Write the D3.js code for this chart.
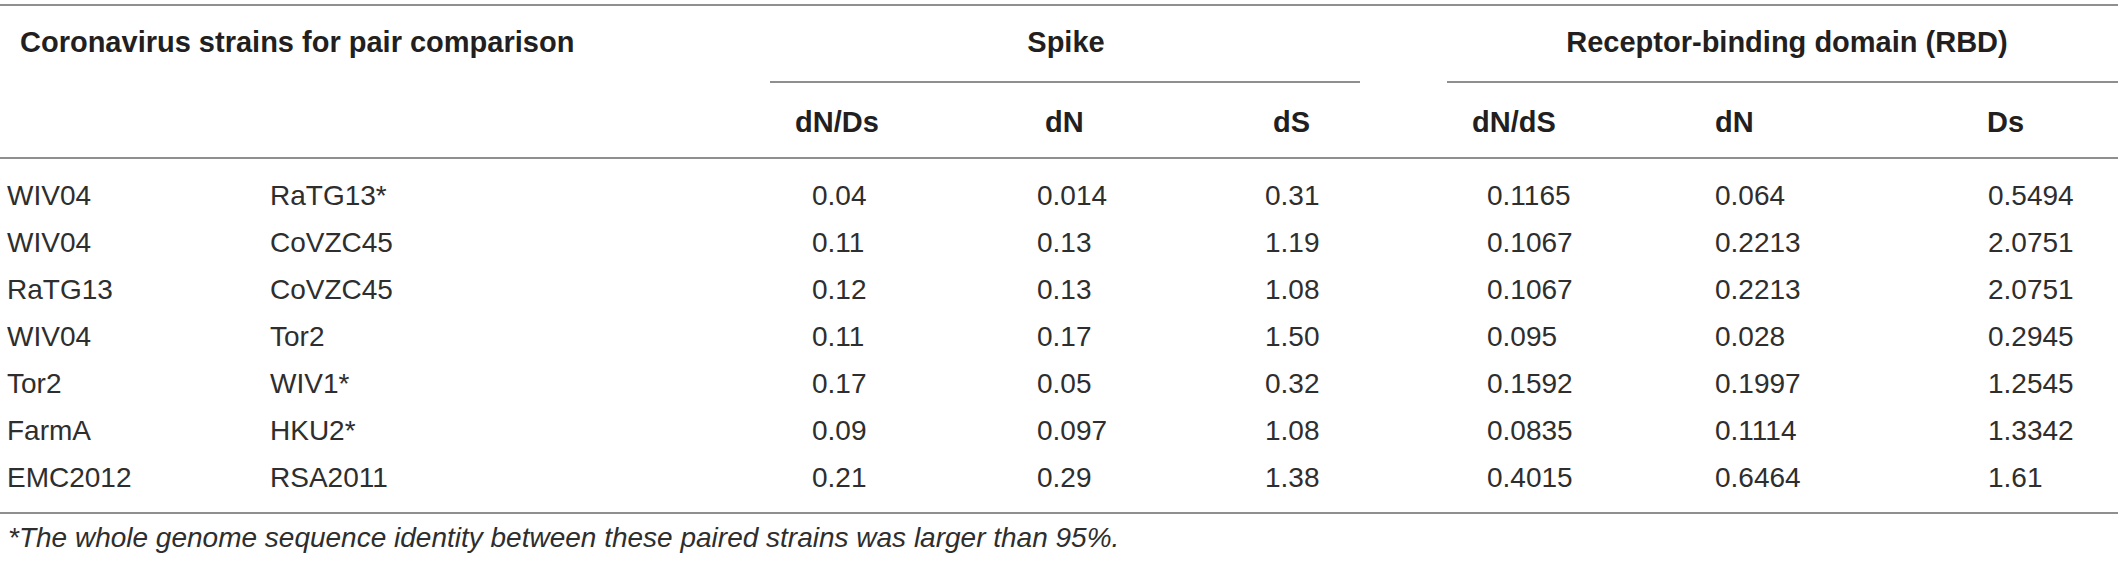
<!DOCTYPE html>
<html lang="en">
<head>
    <meta charset="UTF-8">
    <title>dN/dS table</title>
    <script src="https://cdn.jsdelivr.net/npm/d3@7"></script>
    <style>
        body { margin: 0; background: #fff; }
        svg text { font-family: "Liberation Sans", Arial, sans-serif; fill: #231f20; }
        svg text.light { fill: #2e2e2e; }
    </style>
</head>
<body>
<script>

    // strain pairs
    var strainA = ["WIV04", "WIV04", "RaTG13", "WIV04", "Tor2", "FarmA", "EMC2012"];
    var strainB = ["RaTG13*", "CoVZC45", "CoVZC45", "Tor2", "WIV1*", "HKU2*", "RSA2011"];

    // Spike
    var spikeDnDs = ["0.04", "0.11", "0.12", "0.11", "0.17", "0.09", "0.21"];
    var spikeDn = ["0.014", "0.13", "0.13", "0.17", "0.05", "0.097", "0.29"];
    var spikeDs = ["0.31", "1.19", "1.08", "1.50", "0.32", "1.08", "1.38"];

    // RBD
    var rbdDnDs = ["0.1165", "0.1067", "0.1067", "0.095", "0.1592", "0.0835", "0.4015"];
    var rbdDn = ["0.064", "0.2213", "0.2213", "0.028", "0.1997", "0.1114", "0.6464"];
    var rbdDs = ["0.5494", "2.0751", "2.0751", "0.2945", "1.2545", "1.3342", "1.61"];

    var groupLabels = ["Spike", "Receptor-binding domain (RBD)"];
    var colLabels = ["dN/Ds", "dN", "dS", "dN/dS", "dN", "Ds"];
    var titleLabel = "Coronavirus strains for pair comparison";
    var footnote = "*The whole genome sequence identity between these paired strains was larger than 95%.";

    var w = 2118, h = 562;
    var lineColor = "#8f8f8f";
    var headSize = "29px", bodySize = "28px";

    var svg = d3.select("body").append("svg")
        .attr("width", w)
        .attr("height", h);

    var cols = ["sdnds", "sdn", "sds", "rdnds", "rdn", "rds"];
    var colData = [spikeDnDs, spikeDn, spikeDs, rbdDnDs, rbdDn, rbdDs];

    // start x of the values in each column
    var xVal = d3.scaleOrdinal().domain(cols).range([812, 1037, 1265, 1487, 1715, 1988]);
    // start x of the column headers
    var xHead = d3.scaleOrdinal().domain(cols).range([795, 1045, 1273, 1472, 1715, 1987]);

    var y = d3.scalePoint()
        .domain(d3.range(strainA.length))
        .range([205, 487]);

    // rules
    var rules = [
        {x1: 0, x2: w, y: 5},
        {x1: 770, x2: 1360, y: 82},
        {x1: 1447, x2: w, y: 82},
        {x1: 0, x2: w, y: 158},
        {x1: 0, x2: w, y: 513}
    ];
    svg.selectAll("line.rule")
        .data(rules)
        .enter()
        .append("line")
        .attr("class", "rule")
        .attr("x1", function (d) { return d.x1; })
        .attr("x2", function (d) { return d.x2; })
        .attr("y1", function (d) { return d.y; })
        .attr("y2", function (d) { return d.y; })
        .attr("stroke", lineColor)
        .attr("stroke-width", 2);

    // header row 1
    svg.append("text")
        .text(titleLabel)
        .attr("x", 20)
        .attr("y", 52)
        .attr("font-size", headSize)
        .attr("font-weight", "bold");

    svg.selectAll("text.group")
        .data(groupLabels)
        .enter()
        .append("text")
        .attr("class", "group")
        .text(function (d) { return d; })
        .attr("x", function (d, i) { return [1066, 1787][i]; })
        .attr("y", 52)
        .attr("text-anchor", "middle")
        .attr("font-size", headSize)
        .attr("font-weight", "bold");

    // header row 2
    svg.selectAll("text.colhead")
        .data(colLabels)
        .enter()
        .append("text")
        .attr("class", "colhead")
        .text(function (d) { return d; })
        .attr("x", function (d, i) { return xHead(cols[i]); })
        .attr("y", 132)
        .attr("font-size", headSize)
        .attr("font-weight", "bold");

    // strain names
    svg.selectAll("text.sa")
        .data(strainA)
        .enter()
        .append("text")
        .attr("class", "sa light")
        .text(function (d) { return d; })
        .attr("x", 7)
        .attr("y", function (d, i) { return y(i); })
        .attr("font-size", bodySize);

    svg.selectAll("text.sb")
        .data(strainB)
        .enter()
        .append("text")
        .attr("class", "sb light")
        .text(function (d) { return d; })
        .attr("x", 270)
        .attr("y", function (d, i) { return y(i); })
        .attr("font-size", bodySize);

    // values
    cols.forEach(function (c, ci) {
        svg.selectAll("text.v" + c)
            .data(colData[ci])
            .enter()
            .append("text")
            .attr("class", "v" + c + " light")
            .text(function (d) { return d; })
            .attr("x", xVal(c))
            .attr("y", function (d, i) { return y(i); })
            .attr("font-size", bodySize);
    });

    // footnote
    svg.append("text")
        .attr("class", "light")
        .text(footnote)
        .attr("x", 8)
        .attr("y", 547)
        .attr("font-size", bodySize)
        .attr("font-style", "italic");

</script>
</body>
</html>
